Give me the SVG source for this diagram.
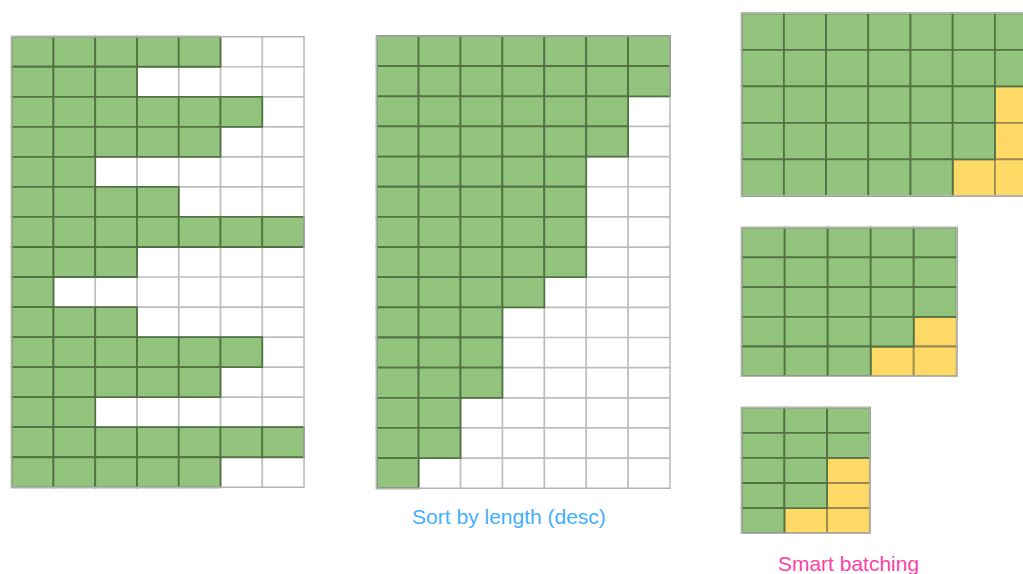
<svg xmlns="http://www.w3.org/2000/svg" width="1023" height="574" viewBox="0 0 1023 574">
<style>
.bg{fill:#fff}
.gl{fill:none;stroke:#bdbdbd;stroke-width:1.7;vector-effect:non-scaling-stroke}
.g{fill:#93c47d;stroke:#537243;stroke-width:1.8;vector-effect:non-scaling-stroke}
.y{fill:#ffd966;stroke:#9c8850;stroke-width:1.8;vector-effect:non-scaling-stroke}
.bd{fill:none;stroke:#b4b4b4;stroke-width:1.4;vector-effect:non-scaling-stroke}
.lbl{font-family:"Liberation Sans",Arial,Helvetica,sans-serif;font-size:21px;text-anchor:middle}
</style>
<rect width="1023" height="574" fill="#fff"/>

<g id="grid-unsorted" transform="translate(11.7,36.7) scale(41.76,30.04)">
<rect class="bg" width="7" height="15"/>
<path class="gl" d="M1 0V15M2 0V15M3 0V15M4 0V15M5 0V15M6 0V15M0 1H7M0 2H7M0 3H7M0 4H7M0 5H7M0 6H7M0 7H7M0 8H7M0 9H7M0 10H7M0 11H7M0 12H7M0 13H7M0 14H7"/>
<rect class="g" x="0" y="0" width="1" height="1"/><rect class="g" x="1" y="0" width="1" height="1"/><rect class="g" x="2" y="0" width="1" height="1"/><rect class="g" x="3" y="0" width="1" height="1"/><rect class="g" x="4" y="0" width="1" height="1"/>
<rect class="g" x="0" y="1" width="1" height="1"/><rect class="g" x="1" y="1" width="1" height="1"/><rect class="g" x="2" y="1" width="1" height="1"/>
<rect class="g" x="0" y="2" width="1" height="1"/><rect class="g" x="1" y="2" width="1" height="1"/><rect class="g" x="2" y="2" width="1" height="1"/><rect class="g" x="3" y="2" width="1" height="1"/><rect class="g" x="4" y="2" width="1" height="1"/><rect class="g" x="5" y="2" width="1" height="1"/>
<rect class="g" x="0" y="3" width="1" height="1"/><rect class="g" x="1" y="3" width="1" height="1"/><rect class="g" x="2" y="3" width="1" height="1"/><rect class="g" x="3" y="3" width="1" height="1"/><rect class="g" x="4" y="3" width="1" height="1"/>
<rect class="g" x="0" y="4" width="1" height="1"/><rect class="g" x="1" y="4" width="1" height="1"/>
<rect class="g" x="0" y="5" width="1" height="1"/><rect class="g" x="1" y="5" width="1" height="1"/><rect class="g" x="2" y="5" width="1" height="1"/><rect class="g" x="3" y="5" width="1" height="1"/>
<rect class="g" x="0" y="6" width="1" height="1"/><rect class="g" x="1" y="6" width="1" height="1"/><rect class="g" x="2" y="6" width="1" height="1"/><rect class="g" x="3" y="6" width="1" height="1"/><rect class="g" x="4" y="6" width="1" height="1"/><rect class="g" x="5" y="6" width="1" height="1"/><rect class="g" x="6" y="6" width="1" height="1"/>
<rect class="g" x="0" y="7" width="1" height="1"/><rect class="g" x="1" y="7" width="1" height="1"/><rect class="g" x="2" y="7" width="1" height="1"/>
<rect class="g" x="0" y="8" width="1" height="1"/>
<rect class="g" x="0" y="9" width="1" height="1"/><rect class="g" x="1" y="9" width="1" height="1"/><rect class="g" x="2" y="9" width="1" height="1"/>
<rect class="g" x="0" y="10" width="1" height="1"/><rect class="g" x="1" y="10" width="1" height="1"/><rect class="g" x="2" y="10" width="1" height="1"/><rect class="g" x="3" y="10" width="1" height="1"/><rect class="g" x="4" y="10" width="1" height="1"/><rect class="g" x="5" y="10" width="1" height="1"/>
<rect class="g" x="0" y="11" width="1" height="1"/><rect class="g" x="1" y="11" width="1" height="1"/><rect class="g" x="2" y="11" width="1" height="1"/><rect class="g" x="3" y="11" width="1" height="1"/><rect class="g" x="4" y="11" width="1" height="1"/>
<rect class="g" x="0" y="12" width="1" height="1"/><rect class="g" x="1" y="12" width="1" height="1"/>
<rect class="g" x="0" y="13" width="1" height="1"/><rect class="g" x="1" y="13" width="1" height="1"/><rect class="g" x="2" y="13" width="1" height="1"/><rect class="g" x="3" y="13" width="1" height="1"/><rect class="g" x="4" y="13" width="1" height="1"/><rect class="g" x="5" y="13" width="1" height="1"/><rect class="g" x="6" y="13" width="1" height="1"/>
<rect class="g" x="0" y="14" width="1" height="1"/><rect class="g" x="1" y="14" width="1" height="1"/><rect class="g" x="2" y="14" width="1" height="1"/><rect class="g" x="3" y="14" width="1" height="1"/><rect class="g" x="4" y="14" width="1" height="1"/>
<rect class="bd" width="7" height="15"/>
</g>

<g id="grid-sorted" transform="translate(376.7,36) scale(41.9,30.15)">
<rect class="bg" width="7" height="15"/>
<path class="gl" d="M1 0V15M2 0V15M3 0V15M4 0V15M5 0V15M6 0V15M0 1H7M0 2H7M0 3H7M0 4H7M0 5H7M0 6H7M0 7H7M0 8H7M0 9H7M0 10H7M0 11H7M0 12H7M0 13H7M0 14H7"/>
<rect class="g" x="0" y="0" width="1" height="1"/><rect class="g" x="1" y="0" width="1" height="1"/><rect class="g" x="2" y="0" width="1" height="1"/><rect class="g" x="3" y="0" width="1" height="1"/><rect class="g" x="4" y="0" width="1" height="1"/><rect class="g" x="5" y="0" width="1" height="1"/><rect class="g" x="6" y="0" width="1" height="1"/>
<rect class="g" x="0" y="1" width="1" height="1"/><rect class="g" x="1" y="1" width="1" height="1"/><rect class="g" x="2" y="1" width="1" height="1"/><rect class="g" x="3" y="1" width="1" height="1"/><rect class="g" x="4" y="1" width="1" height="1"/><rect class="g" x="5" y="1" width="1" height="1"/><rect class="g" x="6" y="1" width="1" height="1"/>
<rect class="g" x="0" y="2" width="1" height="1"/><rect class="g" x="1" y="2" width="1" height="1"/><rect class="g" x="2" y="2" width="1" height="1"/><rect class="g" x="3" y="2" width="1" height="1"/><rect class="g" x="4" y="2" width="1" height="1"/><rect class="g" x="5" y="2" width="1" height="1"/>
<rect class="g" x="0" y="3" width="1" height="1"/><rect class="g" x="1" y="3" width="1" height="1"/><rect class="g" x="2" y="3" width="1" height="1"/><rect class="g" x="3" y="3" width="1" height="1"/><rect class="g" x="4" y="3" width="1" height="1"/><rect class="g" x="5" y="3" width="1" height="1"/>
<rect class="g" x="0" y="4" width="1" height="1"/><rect class="g" x="1" y="4" width="1" height="1"/><rect class="g" x="2" y="4" width="1" height="1"/><rect class="g" x="3" y="4" width="1" height="1"/><rect class="g" x="4" y="4" width="1" height="1"/>
<rect class="g" x="0" y="5" width="1" height="1"/><rect class="g" x="1" y="5" width="1" height="1"/><rect class="g" x="2" y="5" width="1" height="1"/><rect class="g" x="3" y="5" width="1" height="1"/><rect class="g" x="4" y="5" width="1" height="1"/>
<rect class="g" x="0" y="6" width="1" height="1"/><rect class="g" x="1" y="6" width="1" height="1"/><rect class="g" x="2" y="6" width="1" height="1"/><rect class="g" x="3" y="6" width="1" height="1"/><rect class="g" x="4" y="6" width="1" height="1"/>
<rect class="g" x="0" y="7" width="1" height="1"/><rect class="g" x="1" y="7" width="1" height="1"/><rect class="g" x="2" y="7" width="1" height="1"/><rect class="g" x="3" y="7" width="1" height="1"/><rect class="g" x="4" y="7" width="1" height="1"/>
<rect class="g" x="0" y="8" width="1" height="1"/><rect class="g" x="1" y="8" width="1" height="1"/><rect class="g" x="2" y="8" width="1" height="1"/><rect class="g" x="3" y="8" width="1" height="1"/>
<rect class="g" x="0" y="9" width="1" height="1"/><rect class="g" x="1" y="9" width="1" height="1"/><rect class="g" x="2" y="9" width="1" height="1"/>
<rect class="g" x="0" y="10" width="1" height="1"/><rect class="g" x="1" y="10" width="1" height="1"/><rect class="g" x="2" y="10" width="1" height="1"/>
<rect class="g" x="0" y="11" width="1" height="1"/><rect class="g" x="1" y="11" width="1" height="1"/><rect class="g" x="2" y="11" width="1" height="1"/>
<rect class="g" x="0" y="12" width="1" height="1"/><rect class="g" x="1" y="12" width="1" height="1"/>
<rect class="g" x="0" y="13" width="1" height="1"/><rect class="g" x="1" y="13" width="1" height="1"/>
<rect class="g" x="0" y="14" width="1" height="1"/>
<rect class="bd" width="7" height="15"/>
</g>

<g id="batch-1" transform="translate(741.7,13.3) scale(42.2,36.5)">
<rect class="y" x="6" y="2" width="1" height="1"/><rect class="y" x="6" y="3" width="1" height="1"/><rect class="y" x="5" y="4" width="1" height="1"/><rect class="y" x="6" y="4" width="1" height="1"/>
<rect class="g" x="0" y="0" width="1" height="1"/><rect class="g" x="1" y="0" width="1" height="1"/><rect class="g" x="2" y="0" width="1" height="1"/><rect class="g" x="3" y="0" width="1" height="1"/><rect class="g" x="4" y="0" width="1" height="1"/><rect class="g" x="5" y="0" width="1" height="1"/><rect class="g" x="6" y="0" width="1" height="1"/>
<rect class="g" x="0" y="1" width="1" height="1"/><rect class="g" x="1" y="1" width="1" height="1"/><rect class="g" x="2" y="1" width="1" height="1"/><rect class="g" x="3" y="1" width="1" height="1"/><rect class="g" x="4" y="1" width="1" height="1"/><rect class="g" x="5" y="1" width="1" height="1"/><rect class="g" x="6" y="1" width="1" height="1"/>
<rect class="g" x="0" y="2" width="1" height="1"/><rect class="g" x="1" y="2" width="1" height="1"/><rect class="g" x="2" y="2" width="1" height="1"/><rect class="g" x="3" y="2" width="1" height="1"/><rect class="g" x="4" y="2" width="1" height="1"/><rect class="g" x="5" y="2" width="1" height="1"/>
<rect class="g" x="0" y="3" width="1" height="1"/><rect class="g" x="1" y="3" width="1" height="1"/><rect class="g" x="2" y="3" width="1" height="1"/><rect class="g" x="3" y="3" width="1" height="1"/><rect class="g" x="4" y="3" width="1" height="1"/><rect class="g" x="5" y="3" width="1" height="1"/>
<rect class="g" x="0" y="4" width="1" height="1"/><rect class="g" x="1" y="4" width="1" height="1"/><rect class="g" x="2" y="4" width="1" height="1"/><rect class="g" x="3" y="4" width="1" height="1"/><rect class="g" x="4" y="4" width="1" height="1"/>
<rect class="bd" width="7" height="5"/>
</g>

<g id="batch-2" transform="translate(741.7,227.7) scale(43,29.7)">
<rect class="y" x="4" y="3" width="1" height="1"/><rect class="y" x="3" y="4" width="1" height="1"/><rect class="y" x="4" y="4" width="1" height="1"/>
<rect class="g" x="0" y="0" width="1" height="1"/><rect class="g" x="1" y="0" width="1" height="1"/><rect class="g" x="2" y="0" width="1" height="1"/><rect class="g" x="3" y="0" width="1" height="1"/><rect class="g" x="4" y="0" width="1" height="1"/>
<rect class="g" x="0" y="1" width="1" height="1"/><rect class="g" x="1" y="1" width="1" height="1"/><rect class="g" x="2" y="1" width="1" height="1"/><rect class="g" x="3" y="1" width="1" height="1"/><rect class="g" x="4" y="1" width="1" height="1"/>
<rect class="g" x="0" y="2" width="1" height="1"/><rect class="g" x="1" y="2" width="1" height="1"/><rect class="g" x="2" y="2" width="1" height="1"/><rect class="g" x="3" y="2" width="1" height="1"/><rect class="g" x="4" y="2" width="1" height="1"/>
<rect class="g" x="0" y="3" width="1" height="1"/><rect class="g" x="1" y="3" width="1" height="1"/><rect class="g" x="2" y="3" width="1" height="1"/><rect class="g" x="3" y="3" width="1" height="1"/>
<rect class="g" x="0" y="4" width="1" height="1"/><rect class="g" x="1" y="4" width="1" height="1"/><rect class="g" x="2" y="4" width="1" height="1"/>
<rect class="bd" width="5" height="5"/>
</g>

<g id="batch-3" transform="translate(741.7,407.7) scale(42.7,25.1)">
<rect class="y" x="2" y="2" width="1" height="1"/><rect class="y" x="2" y="3" width="1" height="1"/><rect class="y" x="1" y="4" width="1" height="1"/><rect class="y" x="2" y="4" width="1" height="1"/>
<rect class="g" x="0" y="0" width="1" height="1"/><rect class="g" x="1" y="0" width="1" height="1"/><rect class="g" x="2" y="0" width="1" height="1"/>
<rect class="g" x="0" y="1" width="1" height="1"/><rect class="g" x="1" y="1" width="1" height="1"/><rect class="g" x="2" y="1" width="1" height="1"/>
<rect class="g" x="0" y="2" width="1" height="1"/><rect class="g" x="1" y="2" width="1" height="1"/>
<rect class="g" x="0" y="3" width="1" height="1"/><rect class="g" x="1" y="3" width="1" height="1"/>
<rect class="g" x="0" y="4" width="1" height="1"/>
<rect class="bd" width="3" height="5"/>
</g>

<g id="labels">
<text class="lbl" x="509" y="523.5" fill="#42b0ff">Sort by length (desc)</text>
<text class="lbl" x="848.5" y="571" fill="#ff3fa4">Smart batching</text>
</g>
</svg>
